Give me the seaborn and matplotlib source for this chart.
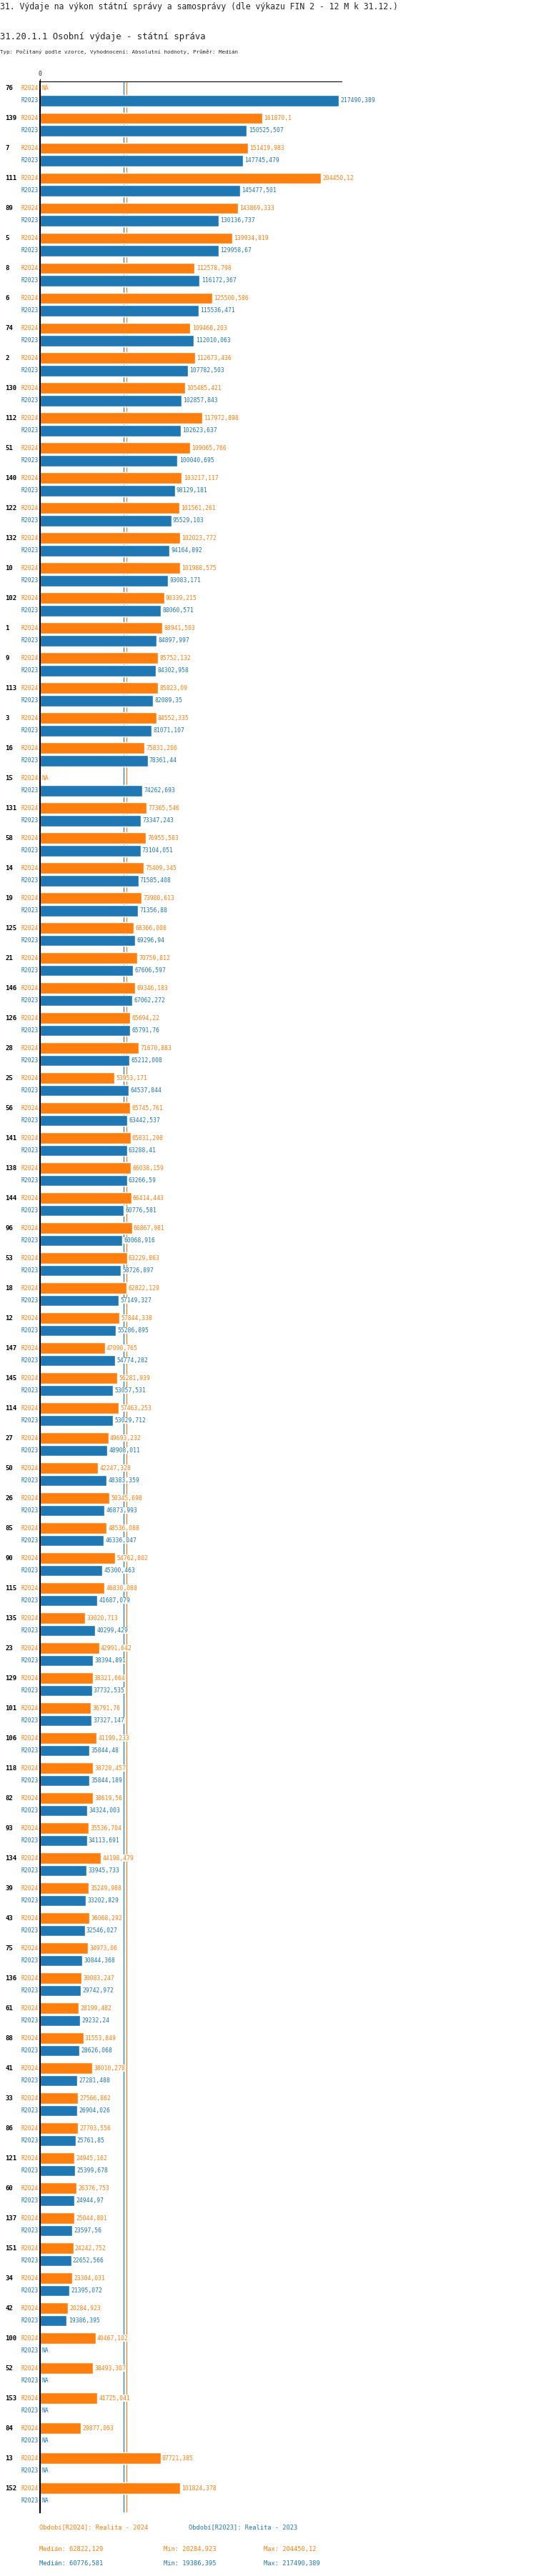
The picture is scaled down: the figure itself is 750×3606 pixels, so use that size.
import numpy as np
import pandas as pd
import matplotlib
matplotlib.use("Agg")
import matplotlib.pyplot as plt
import matplotlib.transforms as mtransforms
import seaborn as sns

# ids of the units, top to bottom
groups = ["76", "139", "7", "111", "89", "5", "8", "6", "74", "2", "130", "112", "51", "140",
          "122", "132", "10", "102", "1", "9", "113", "3", "16", "15", "131", "58", "14", "19",
          "125", "21", "146", "126", "28", "25", "56", "141", "138", "144", "96", "53", "18",
          "12", "147", "145", "114", "27", "50", "26", "85", "90", "115", "135", "23", "129",
          "101", "106", "118", "82", "93", "134", "39", "43", "75", "136", "61", "88", "41",
          "33", "86", "121", "60", "137", "151", "34", "42", "100", "52", "153", "84", "13", "152"]

r2024 = [np.nan, 161870.1, 151419.983, 204450.12, 143869.333, 139934.819, 112578.798, 125500.586,
         109466.203, 112673.436, 105485.421, 117972.898, 109065.766, 103217.117, 101561.261,
         102023.772, 101988.575, 90339.215, 88941.503, 85752.132, 85823.09, 84552.335, 75831.206,
         np.nan, 77365.546, 76955.583, 75409.345, 73980.613, 68366.008, 70759.812, 69346.183,
         65694.22, 71670.883, 53953.171, 65745.761, 65831.298, 66038.159, 66414.443, 66867.981,
         63229.863, 62822.129, 57844.338, 47090.765, 56281.939, 57463.253, 49693.232, 42247.328,
         50345.698, 48536.088, 54762.802, 46830.088, 33020.713, 42991.642, 38321.664, 36791.76,
         41199.233, 38720.457, 38619.56, 35536.704, 44198.479, 35249.988, 36068.292, 34973.06,
         30083.247, 28199.482, 31553.849, 38010.278, 27566.862, 27703.556, 24945.162, 26376.753,
         25044.801, 24242.752, 23304.031, 20284.923, 40467.102, 38493.307, 41725.041, 29877.003,
         87721.385, 101824.378]

r2023 = [217490.389, 150525.507, 147745.479, 145477.501, 130136.737, 129958.67, 116172.367,
         115536.471, 112010.063, 107782.503, 102857.843, 102623.637, 100040.695, 98129.181,
         95529.103, 94164.892, 93083.171, 88060.571, 84897.997, 84302.958, 82089.35, 81071.107,
         78361.44, 74262.693, 73347.243, 73104.051, 71585.408, 71356.88, 69296.94, 67606.597,
         67062.272, 65791.76, 65212.008, 64537.844, 63442.537, 63288.41, 63266.59, 60776.581,
         60068.916, 58726.897, 57149.327, 55286.895, 54774.282, 53057.531, 53029.712, 48908.011,
         48383.359, 46873.993, 46336.047, 45300.463, 41687.079, 40299.429, 38394.891, 37732.535,
         37327.147, 35844.48, 35844.189, 34324.003, 34113.691, 33945.733, 33202.829, 32546.027,
         30844.368, 29742.972, 29232.24, 28626.068, 27281.488, 26904.026, 25761.85, 25399.678,
         24944.97, 23597.56, 22652.566, 21395.072, 19386.395, np.nan, np.nan, np.nan, np.nan,
         np.nan, np.nan]

periods = ["R2024", "R2023"]
colors = {"R2024": "#ff7f0e", "R2023": "#1f77b4"}

df = pd.DataFrame({
    "grp": groups * 2,
    "period": ["R2024"] * len(groups) + ["R2023"] * len(groups),
    "value": r2024 + r2023,
})


def fmt(v):
    s = f"{v:.3f}".rstrip("0").rstrip(".")
    return s.replace(".", ",")


sns.set_style("white")
plt.rcParams["font.family"] = ["DejaVu Sans Mono"]

W, H = 750, 3606
fig = plt.figure(figsize=(W / 100, H / 100), dpi=100)
x0, x1, ytop, ybot = 56, 478, 114, 3517
ax = fig.add_axes([x0 / W, 1 - ybot / H, (x1 - x0) / W, (ybot - ytop) / H])

width = 0.82
sns.barplot(data=df, y="grp", x="value", hue="period", order=groups, hue_order=periods,
            palette=colors, width=width, gap=0.08, orient="h", ax=ax, legend=False,
            saturation=1, zorder=2)

xmax = 217490.389 * (x1 - x0) / 418
ax.set_xlim(0, xmax)
ax.set_ylim(len(groups) - 0.4, -0.43)
ax.set_xlabel("")
ax.set_ylabel("")
ax.set_yticks([])
ax.set_xticks([0])
ax.xaxis.tick_top()
ax.tick_params(axis="x", length=3, labelsize=6, pad=1)
for s in ["right", "bottom"]:
    ax.spines[s].set_visible(False)
ax.spines["left"].set_linewidth(1.6)
ax.spines["left"].set_color("black")
ax.spines["top"].set_linewidth(0.8)
ax.spines["top"].set_color("black")

med = {"R2024": np.nanmedian(r2024), "R2023": np.nanmedian(r2023)}
for p in periods:
    ax.axvline(med[p], color=colors[p], lw=0.9, zorder=1)

trans = mtransforms.blended_transform_factory(fig.transFigure, ax.transData)
off = {"R2024": -width / 4, "R2023": width / 4}
vals = {"R2024": r2024, "R2023": r2023}
for i, g in enumerate(groups):
    ax.text(7 / W, i + off["R2024"], g, transform=trans, ha="left", va="center",
            fontsize=6.5, fontweight="bold", color="black")
    for p in periods:
        y = i + off[p]
        ax.text(54 / W, y, p, transform=trans, ha="right", va="center", fontsize=5.8,
                color=colors[p])
        v = vals[p][i]
        if np.isnan(v):
            ax.text(1200, y, "NA", ha="left", va="center", fontsize=5.8, color=colors[p],
                    zorder=5)
        else:
            ax.text(v + 1200, y, fmt(v), ha="left", va="center", fontsize=5.8,
                    color=colors[p], zorder=5,
                    bbox=dict(facecolor="white", edgecolor="none", pad=0.3))

fig.text(0, 1 - 9 / H, "31. Výdaje na výkon státní správy a samosprávy (dle výkazu FIN 2 - 12 M k 31.12.)",
         fontsize=8.3, va="center", ha="left")
fig.text(0, 1 - 52 / H, "31.20.1.1 Osobní výdaje - státní správa", fontsize=8.8,
         va="center", ha="left")
fig.text(0, 1 - 73 / H, "Typ: Počítaný podle vzorce, Vyhodnocení: Absolutní hodnoty, Průměr: Medián",
         fontsize=5.4, va="center", ha="left")

fig.text(55 / W, 1 - 3538 / H, "Období[R2024]: Realita - 2024", color=colors["R2024"],
         fontsize=6.3, va="center")
fig.text(264 / W, 1 - 3538 / H, "Období[R2023]: Realita - 2023", color=colors["R2023"],
         fontsize=6.3, va="center")
for p, yy in [("R2024", 3568), ("R2023", 3588)]:
    v = np.array(vals[p])
    fig.text(55 / W, 1 - yy / H, "Medián: " + fmt(np.nanmedian(v)), color=colors[p],
             fontsize=6.3, va="center")
    fig.text(229 / W, 1 - yy / H, "Min: " + fmt(np.nanmin(v)), color=colors[p],
             fontsize=6.3, va="center")
    fig.text(369 / W, 1 - yy / H, "Max: " + fmt(np.nanmax(v)), color=colors[p],
             fontsize=6.3, va="center")

fig.savefig("out.png", dpi=100)
